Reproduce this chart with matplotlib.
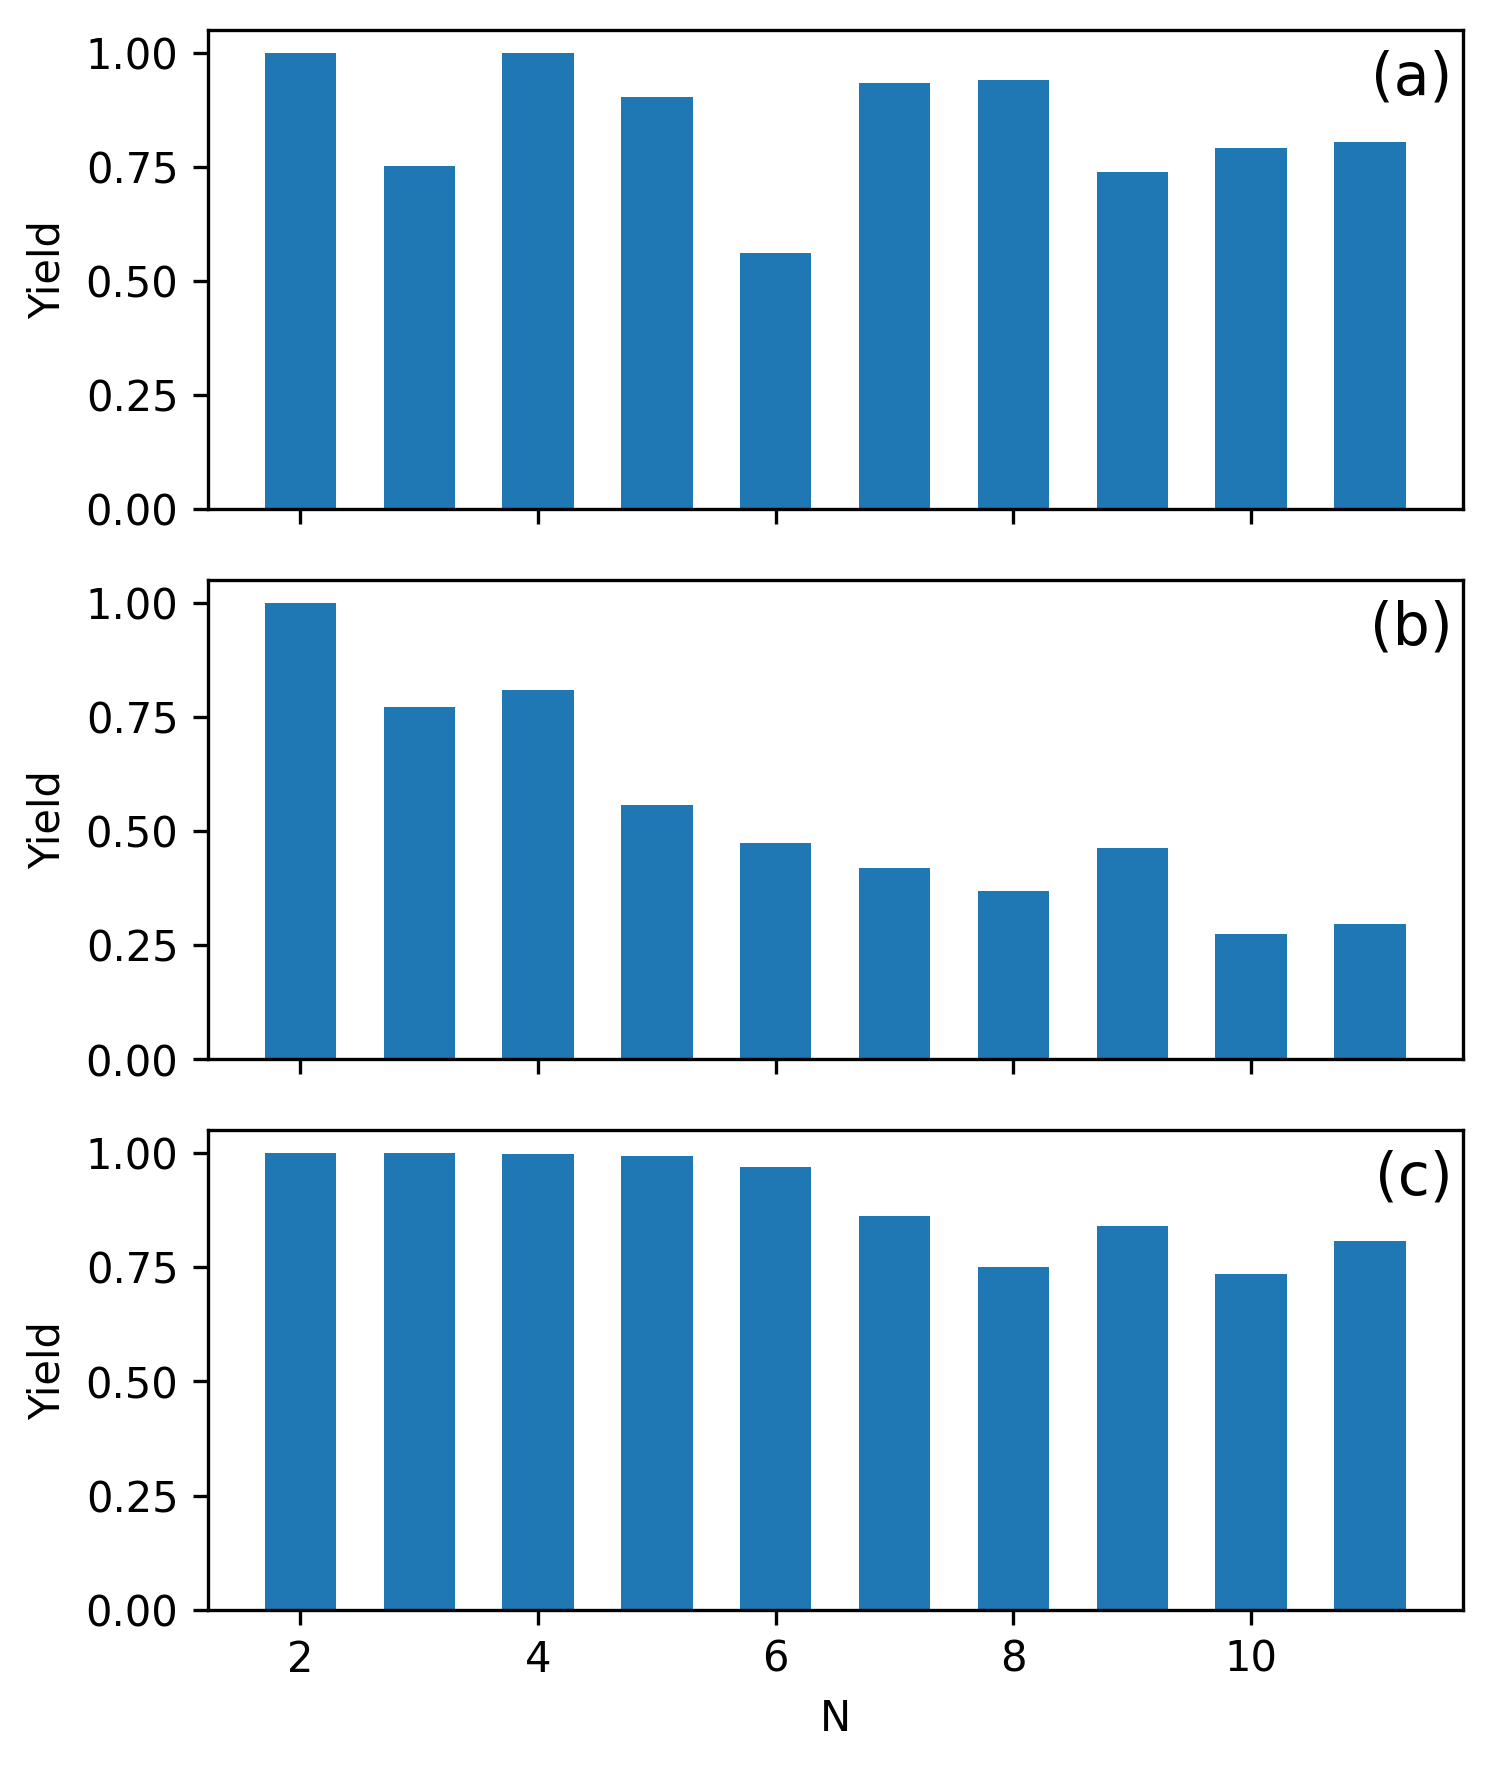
import numpy as np
import matplotlib
matplotlib.use("Agg")
import matplotlib.pyplot as plt

# Data:
N = [2, 3, 4, 5, 6, 7, 8, 9, 10, 11]
yield_a = [1.0, 0.751, 1.0, 0.904, 0.562, 0.933, 0.941, 0.739, 0.791, 0.805]
yield_b = [1.0, 0.773, 0.810, 0.558, 0.474, 0.420, 0.370, 0.464, 0.274, 0.296]
yield_c = [1.0, 1.0, 0.998, 0.993, 0.970, 0.862, 0.751, 0.840, 0.736, 0.807]
labels = ['(a)', '(b)', '(c)']

fig, axes = plt.subplots(3, 1, sharex=True, figsize=(4.98, 5.887), dpi=300)
fig.subplots_adjust(left=0.139, right=0.979, top=0.983, bottom=0.0885, hspace=0.148)

for ax, y, lab in zip(axes, [yield_a, yield_b, yield_c], labels):
    ax.bar(N, y, width=0.6, color='#1f77b4')
    ax.set_ylabel('Yield')
    ax.set_yticks([0.0, 0.25, 0.5, 0.75, 1.0])
    ax.text(0.992, 0.96, lab, transform=ax.transAxes, ha='right', va='top', fontsize=14)

axes[-1].set_xlabel('N')

fig.savefig('out.png', dpi=300)
